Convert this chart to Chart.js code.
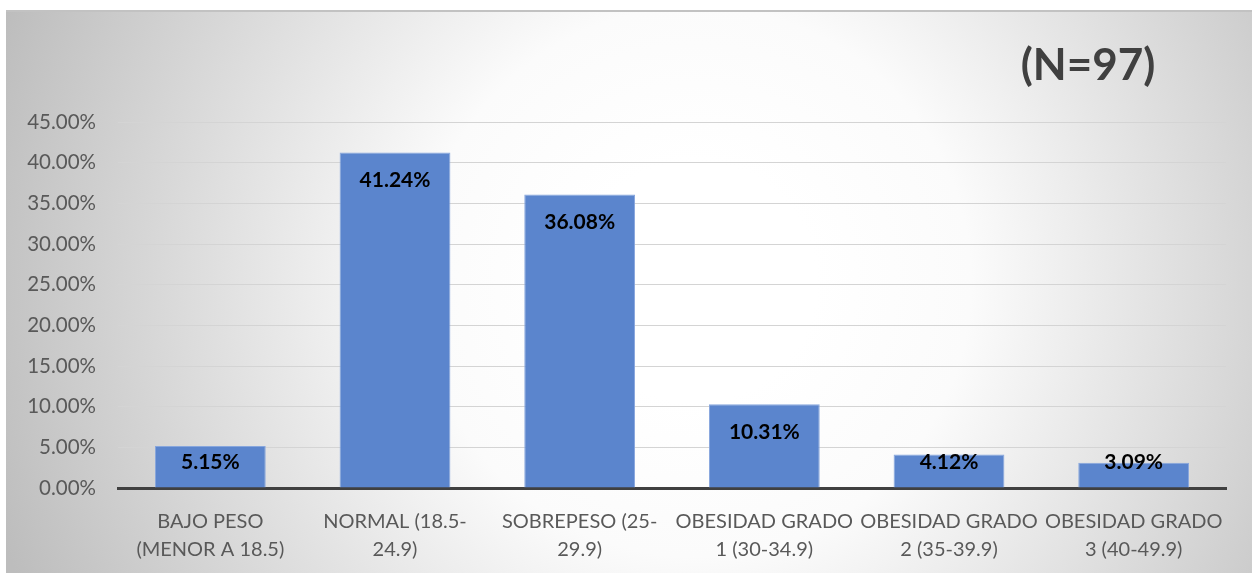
<!DOCTYPE html>
<html>
<head>
<meta charset="utf-8">
<script src="https://cdn.jsdelivr.net/npm/chart.js@4"></script>
<style>
  html, body { margin: 0; padding: 0; background: #fff; }
  #wrap { position: absolute; left: 6px; top: 10px; width: 1246px; height: 563px; border-top: 2px solid #c2c2c2; box-sizing: border-box; }
  canvas { display: block; }
</style>
</head>
<body>
<div id="wrap"><canvas id="myChart" width="1246" height="561"></canvas></div>
<script>
var categorias = [
  ['BAJO PESO', '(MENOR A 18.5)'],
  ['NORMAL (18.5-', '24.9)'],
  ['SOBREPESO (25-', '29.9)'],
  ['OBESIDAD GRADO', '1 (30-34.9)'],
  ['OBESIDAD GRADO', '2 (35-39.9)'],
  ['OBESIDAD GRADO', '3 (40-49.9)']
];
var porcentajes = [5.15, 41.24, 36.08, 10.31, 4.12, 3.09];
var titulo = '(N=97)';

// fondo degradado radial + titulo
var fondo = {
  id: 'fondo',
  beforeDraw: function (chart) {
    var c = chart.ctx, w = chart.width, h = chart.height;
    var g = c.createRadialGradient(690, 270, 120, 690, 270, 740);
    g.addColorStop(0, '#ffffff');
    g.addColorStop(0.25, '#fbfbfb');
    g.addColorStop(1, '#bdbdbd');
    c.save();
    c.fillStyle = g;
    c.fillRect(0, 0, w, h);
    c.font = 'bold 44px Lato, "Open Sans", sans-serif';
    c.fillStyle = '#404040';
    c.textAlign = 'center';
    c.textBaseline = 'middle';
    c.fillText(titulo, 1082, 54);
    c.restore();
  }
};

// etiquetas de datos dentro de la barra
var etiquetas = {
  id: 'etiquetas',
  afterDatasetsDraw: function (chart) {
    var c = chart.ctx;
    var meta = chart.getDatasetMeta(0);
    c.save();
    c.font = 'bold 21px Lato, "Open Sans", sans-serif';
    c.fillStyle = '#000';
    c.textAlign = 'center';
    c.textBaseline = 'middle';
    meta.data.forEach(function (bar, i) {
      var y = Math.min(bar.y + 28, bar.base - 25);
      c.fillText(porcentajes[i].toFixed(2) + '%', bar.x, y);
    });
    c.restore();
  }
};

var ctx = document.getElementById('myChart');
var myChart = new Chart(ctx, {
  type: 'bar',
  data: {
    labels: categorias,
    datasets: [{
      data: porcentajes,
      backgroundColor: '#5b85cd',
      borderColor: '#87a6dd',
      borderWidth: 1,
      barPercentage: 0.6,
      categoryPercentage: 1
    }]
  },
  options: {
    responsive: false,
    animation: false,
    layout: { padding: { top: 110, right: 26, left: 0, bottom: 0 } },
    plugins: {
      legend: { display: false },
      tooltip: { enabled: false },
      title: { display: false }
    },
    scales: {
      y: {
        min: 0,
        max: 45,
        ticks: {
          stepSize: 5,
          padding: 22,
          color: '#595959',
          font: { family: 'Lato, "Open Sans", sans-serif', size: 20.5 },
          callback: function (v) { return v.toFixed(2) + '%'; }
        },
        grid: { color: '#d4d4d4', lineWidth: 1, drawTicks: false },
        border: { display: false },
        afterFit: function (s) { s.width = 112; }
      },
      x: {
        ticks: {
          padding: 12,
          color: '#595959',
          maxRotation: 0,
          autoSkip: false,
          font: { family: 'Lato, "Open Sans", sans-serif', size: 20, lineHeight: 1.4 }
        },
        grid: { display: false },
        border: { display: true, color: '#404040', width: 3 },
        afterFit: function (s) { s.height = 85; }
      }
    }
  },
  plugins: [fondo, etiquetas]
});
</script>
</body>
</html>
